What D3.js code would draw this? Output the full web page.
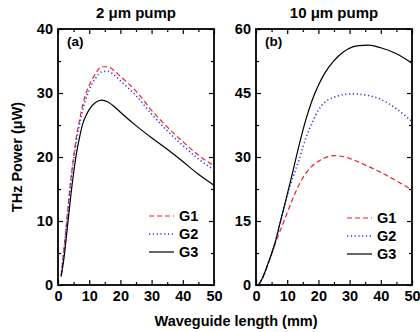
<!DOCTYPE html>
<html>
<head>
<meta charset="utf-8">
<script src="https://cdn.jsdelivr.net/npm/d3@7"></script>
<style>
  body { margin: 0; background: #fff; }
  text { font-family: "Liberation Sans", Arial, sans-serif; font-weight: bold; }
</style>
</head>
<body>
<svg id="chart" width="420" height="332"></svg>
<script>
// panel (a): 2 um pump
var xA = [1, 2, 3, 4, 5, 6, 7, 8, 9, 10, 12, 14, 16, 18, 20, 25, 30, 35, 40, 45, 50];
var g1A = [1.5, 6, 11, 16, 20, 23.5, 26, 28.3, 30, 31.2, 33, 34.1, 34.1, 33.5, 32.6, 30.3, 27.3, 24.7, 22.4, 20.3, 18.6];
var g2A = [1.5, 5.8, 10.7, 15.5, 19.5, 22.8, 25.3, 27.5, 29.2, 30.5, 32.3, 33.3, 33.4, 32.8, 31.9, 29.6, 26.7, 24.1, 21.8, 19.7, 18.0];
var g3A = [1.3, 4.5, 9, 13.5, 17.5, 20.8, 23.3, 25.3, 26.5, 27.4, 28.5, 28.9, 28.6, 27.9, 27.0, 24.9, 23.0, 21.2, 19.3, 17.3, 15.6];

// panel (b): 10 um pump
var xB = [1, 2, 4, 6, 8, 10, 12, 14, 16, 18, 20, 22, 25, 28, 31, 33, 36, 40, 45, 50];
var g1B = [0.2, 1.5, 5.2, 9.5, 13.2, 16.9, 20.6, 23.8, 26.2, 27.9, 29.0, 29.8, 30.3, 30.1, 29.4, 28.8, 27.8, 26.4, 24.4, 22.3];
var g2B = [0.2, 1.5, 5.3, 9.6, 15.4, 21, 25.5, 29.8, 34.5, 38, 41, 42.8, 44, 44.6, 44.8, 44.7, 44.4, 43.5, 41.3, 38.3];
var g3B = [0.2, 1.5, 5.3, 9.6, 15.4, 21.2, 27.2, 33.3, 38.8, 43.3, 46.8, 49.6, 52.6, 54.6, 55.8, 56.1, 56.2, 55.6, 54.2, 52.0];

var seriesNames = ["G1", "G2", "G3"];
var colors = ["#e8202a", "#3030ff", "#000000"];
var dashes = ["5,3", "1.2,2.6", null];

var svg = d3.select("#chart");

function drawPanel(p) {
  var x = d3.scaleLinear().domain([0, 50]).range([p.left, p.right]);
  var y = d3.scaleLinear().domain([0, p.ymax]).range([p.bottom, p.top]);
  var g = svg.append("g");

  // minor ticks (all four sides)
  var xMinor = d3.range(5, 50, 10);
  var yMinor = d3.range(p.ystep / 2, p.ymax, p.ystep);
  g.append("g").attr("transform", "translate(0," + p.bottom + ")")
    .call(d3.axisBottom(x).tickValues(xMinor).tickSize(-3).tickFormat(""));
  g.append("g").attr("transform", "translate(0," + p.top + ")")
    .call(d3.axisTop(x).tickValues(xMinor).tickSize(-3).tickFormat(""));
  g.append("g").attr("transform", "translate(" + p.left + ",0)")
    .call(d3.axisLeft(y).tickValues(yMinor).tickSize(-3).tickFormat(""));
  g.append("g").attr("transform", "translate(" + p.right + ",0)")
    .call(d3.axisRight(y).tickValues(yMinor).tickSize(-3).tickFormat(""));

  // major ticks
  var xMajor = d3.range(0, 51, 10);
  var yMajor = d3.range(0, p.ymax + 0.1, p.ystep);
  g.append("g").attr("class", "lab").attr("transform", "translate(0," + p.bottom + ")")
    .call(d3.axisBottom(x).tickValues(xMajor).tickSize(-5).tickPadding(6));
  g.append("g").attr("transform", "translate(0," + p.top + ")")
    .call(d3.axisTop(x).tickValues(xMajor).tickSize(-5).tickFormat(""));
  g.append("g").attr("class", "lab").attr("transform", "translate(" + p.left + ",0)")
    .call(d3.axisLeft(y).tickValues(yMajor).tickSize(-5).tickPadding(5));
  g.append("g").attr("transform", "translate(" + p.right + ",0)")
    .call(d3.axisRight(y).tickValues(yMajor).tickSize(-5).tickFormat(""));

  g.selectAll(".domain").remove();
  g.selectAll(".tick line").attr("stroke", "#000").attr("stroke-width", 1.2);
  g.selectAll(".lab text").style("font-size", "14.5px").attr("fill", "#000")
    .style("font-family", "'Liberation Sans', Arial, sans-serif").style("font-weight", "bold");

  // frame
  g.append("rect")
    .attr("x", p.left).attr("y", p.top)
    .attr("width", p.right - p.left).attr("height", p.bottom - p.top)
    .attr("fill", "none").attr("stroke", "#000").attr("stroke-width", 1.8);

  // curves
  var line = d3.line()
    .x(function(d) { return x(d[0]); })
    .y(function(d) { return y(d[1]); })
    .curve(d3.curveMonotoneX);
  p.series.forEach(function(s, i) {
    g.append("path")
      .datum(p.xs.map(function(v, j) { return [v, s[j]]; }))
      .attr("d", line)
      .attr("fill", "none")
      .attr("stroke", colors[i])
      .attr("stroke-width", i == 1 ? 1.6 : 1.2)
      .attr("stroke-dasharray", dashes[i]);
  });

  // legend
  seriesNames.forEach(function(name, i) {
    var ly = p.legY + i * 18;
    g.append("line")
      .attr("x1", p.legX).attr("x2", p.legX + 25)
      .attr("y1", ly).attr("y2", ly)
      .attr("stroke", colors[i])
      .attr("stroke-width", i == 1 ? 1.6 : 1.2)
      .attr("stroke-dasharray", dashes[i]);
    g.append("text")
      .attr("x", p.legX + 30).attr("y", ly + 5)
      .style("font-size", "14.5px")
      .text(name);
  });

  // panel label and title
  g.append("text").attr("x", p.left + 9).attr("y", p.top + 17)
    .style("font-size", "13.5px").text(p.tag);
  g.append("text").attr("x", (p.left + p.right) / 2).attr("y", 18)
    .attr("text-anchor", "middle").style("font-size", "15px").text(p.title);
}

drawPanel({
  left: 58, right: 214, top: 29, bottom: 285,
  ymax: 40, ystep: 10,
  xs: xA, series: [g1A, g2A, g3A],
  legX: 149, legY: 216, tag: "(a)", title: "2 \u03bcm pump"
});

drawPanel({
  left: 256, right: 412, top: 29, bottom: 285,
  ymax: 60, ystep: 15,
  xs: xB, series: [g1B, g2B, g3B],
  legX: 347, legY: 218, tag: "(b)", title: "10 \u03bcm pump"
});

// axis titles
svg.append("text")
  .attr("x", 236).attr("y", 326)
  .attr("text-anchor", "middle").style("font-size", "14.5px")
  .text("Waveguide length (mm)");
svg.append("text")
  .attr("transform", "translate(22,157) rotate(-90)")
  .attr("text-anchor", "middle").style("font-size", "14.5px")
  .text("THz Power (\u03bcW)");
</script>
</body>
</html>
